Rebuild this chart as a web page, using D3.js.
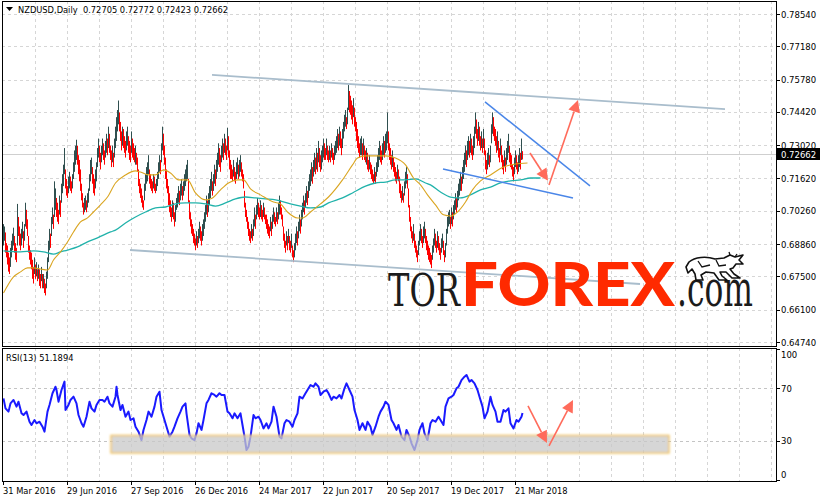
<!DOCTYPE html>
<html><head><meta charset="utf-8">
<script src="https://cdn.jsdelivr.net/npm/d3@7"></script>
<style>body{margin:0;background:#fff}svg{display:block}</style>
</head><body>
<script>
// ---------- data ----------
const titleText = "NZDUSD,Daily  0.72705 0.72772 0.72423 0.72662";
const lastPrice = 0.72662;
const priceTicks = [0.78540,0.77180,0.75780,0.74420,0.73020,0.71620,0.70260,0.68860,0.67500,0.66100,0.64740];
const dateLabels = ["31 Mar 2016","29 Jun 2016","27 Sep 2016","26 Dec 2016","24 Mar 2017","22 Jun 2017","20 Sep 2017","19 Dec 2017","21 Mar 2018"];
const dateBars = [0,64,128,192,256,320,384,448,512];
// daily bar highs / lows, in units of 0.0001
const highs = [
6970,6960,6935,6890,6880,6850,6830,6870,6900,6930,6955,6920,6890,6870,7055,7000,6960,6930,6950,6980,
6940,6970,7060,7030,6990,6920,6880,6860,6850,6820,6790,6830,6800,6810,6780,6800,6780,6760,6790,6760,
6760,6740,6720,6770,6830,6900,6950,6930,7000,7040,7010,7150,7120,7080,7060,7030,7090,7070,7140,7180,
7220,7290,7200,7160,7130,7170,7190,7170,7150,7180,7230,7280,7300,7325,7300,7260,7240,7200,7140,7100,
7060,7080,7090,7070,7100,7120,7180,7240,7250,7210,7180,7160,7200,7230,7290,7330,7300,7270,7300,7330,
7310,7280,7320,7350,7330,7380,7350,7300,7280,7300,7270,7330,7380,7420,7450,7490,7440,7400,7360,7380,
7370,7340,7320,7360,7380,7340,7320,7300,7360,7330,7310,7290,7300,7270,7250,7200,7160,7140,7120,7090,
7070,7140,7180,7210,7230,7260,7200,7180,7160,7150,7180,7170,7140,7160,7190,7230,7260,7240,7310,7380,
7350,7300,7250,7200,7160,7130,7100,7070,7040,7070,7060,7020,7050,7080,7100,7130,7110,7140,7160,7130,
7150,7180,7200,7220,7240,7160,7070,7020,6990,6970,6950,6930,6910,6940,6920,6950,6980,6960,6940,6970,
6990,7020,7050,7090,7070,7100,7130,7160,7190,7150,7180,7220,7200,7240,7270,7310,7290,7260,7300,7330,
7310,7350,7330,7300,7375,7340,7280,7240,7220,7200,7240,7210,7190,7230,7250,7220,7240,7260,7230,7200,
7180,7110,7060,7030,7000,6980,6950,6940,6970,6950,6990,7040,7010,7050,7080,7060,7040,7070,7050,7030,
7060,7040,7010,7010,6990,6970,6960,7000,6980,7010,7040,7020,7000,7040,7020,7060,7090,7070,7040,7010,
6960,6930,6900,6940,6920,6950,6920,6900,6930,6880,6860,6890,6930,6960,6940,6980,7010,6990,7030,7060,
7090,7070,7100,7130,7110,7150,7180,7200,7230,7210,7240,7270,7250,7290,7270,7320,7290,7260,7280,7300,
7330,7310,7290,7330,7300,7280,7300,7280,7310,7290,7270,7300,7320,7340,7370,7350,7380,7360,7330,7370,
7400,7430,7450,7420,7460,7555,7530,7510,7490,7470,7500,7460,7420,7400,7370,7340,7310,7330,7340,7310,
7330,7300,7280,7290,7270,7240,7260,7230,7220,7200,7180,7210,7190,7230,7260,7290,7320,7300,7280,7310,
7340,7320,7350,7360,7440,7360,7310,7290,7260,7280,7250,7230,7210,7190,7220,7200,7170,7140,7110,7130,
7100,7150,7190,7210,7180,7120,7050,7000,6960,6940,6970,6930,6900,6880,6860,6900,6940,6970,6950,6920,
6960,6980,6950,6920,6900,6880,6870,6850,6840,6880,6910,6950,6930,6900,6940,6920,6890,6870,6910,6930,
6900,6860,6890,6950,7000,7020,7030,7000,7040,7020,7050,7070,7100,7080,7110,7140,7160,7190,7170,7210,
7240,7270,7300,7280,7320,7340,7320,7350,7330,7300,7340,7380,7440,7410,7370,7400,7380,7340,7360,7330,
7370,7330,7280,7240,7270,7290,7260,7300,7390,7440,7420,7380,7370,7340,7360,7320,7290,7330,7300,7260,
7240,7280,7250,7290,7320,7350,7300,7270,7260,7220,7210,7250,7280,7260,7230,7260,7290,7270,7330,7277];
const lows = [
6880,6900,6850,6830,6800,6770,6760,6790,6830,6860,6880,6850,6820,6810,6880,6920,6880,6860,6880,6910,
6870,6900,6960,6950,6920,6850,6820,6800,6780,6740,6720,6760,6740,6750,6730,6740,6710,6700,6730,6700,
6700,6680,6670,6700,6740,6810,6860,6870,6920,6970,6950,7000,7030,7000,6980,6970,7010,7000,7060,7100,
7130,7180,7120,7090,7080,7100,7120,7110,7100,7120,7160,7190,7220,7240,7220,7180,7150,7110,7070,7040,
7010,7020,7030,7020,7040,7060,7110,7150,7180,7140,7100,7090,7120,7150,7210,7250,7230,7200,7230,7260,
7240,7220,7250,7270,7260,7290,7270,7240,7210,7230,7210,7250,7290,7320,7360,7390,7360,7320,7280,7300,
7290,7270,7250,7280,7300,7270,7240,7230,7270,7250,7240,7230,7220,7220,7190,7130,7100,7080,7060,7040,
7030,7070,7110,7140,7150,7180,7140,7120,7110,7100,7120,7110,7100,7110,7130,7160,7190,7180,7230,7280,
7260,7220,7160,7120,7100,7050,7020,7000,6980,7000,6990,6960,6980,7030,7040,7060,7050,7070,7090,7070,
7090,7110,7130,7150,7160,7060,6990,6960,6930,6920,6890,6880,6860,6880,6870,6890,6910,6900,6880,6900,
6920,6950,6980,7010,7000,7020,7050,7080,7110,7090,7110,7140,7130,7160,7190,7220,7210,7190,7230,7250,
7240,7270,7260,7240,7280,7250,7200,7160,7160,7150,7170,7150,7140,7160,7180,7160,7170,7190,7170,7150,
7120,7040,7000,6980,6950,6920,6900,6890,6910,6900,6920,6960,6950,6990,7010,7000,6990,7000,6990,6980,
7000,6990,6970,6950,6930,6920,6910,6940,6920,6950,6980,6970,6960,6980,6970,6990,7010,7010,6990,6960,
6900,6870,6850,6880,6860,6890,6860,6850,6870,6830,6810,6830,6860,6890,6880,6910,6940,6930,6960,6990,
7020,7010,7040,7060,7050,7080,7110,7130,7150,7140,7170,7190,7180,7200,7190,7230,7210,7190,7200,7230,
7250,7240,7240,7260,7240,7230,7240,7230,7250,7240,7220,7240,7260,7270,7290,7280,7300,7290,7260,7290,
7330,7360,7380,7370,7390,7450,7440,7430,7410,7390,7420,7380,7360,7320,7290,7270,7250,7260,7260,7240,
7260,7240,7230,7220,7200,7190,7200,7180,7160,7150,7140,7150,7140,7170,7190,7210,7240,7230,7220,7240,
7260,7250,7270,7280,7310,7280,7240,7220,7200,7210,7190,7170,7150,7140,7160,7150,7100,7080,7060,7070,
7060,7090,7120,7140,7120,7040,6980,6940,6910,6890,6900,6870,6850,6830,6810,6840,6880,6900,6890,6870,
6890,6910,6890,6860,6840,6820,6810,6800,6785,6820,6850,6880,6870,6850,6870,6860,6840,6820,6850,6870,
6840,6810,6830,6880,6930,6960,6970,6950,6970,6960,6990,7010,7030,7020,7040,7070,7090,7110,7110,7140,
7160,7190,7220,7210,7240,7260,7250,7270,7260,7240,7260,7290,7350,7330,7300,7320,7300,7280,7290,7270,
7290,7260,7200,7180,7200,7220,7210,7230,7310,7350,7340,7320,7300,7270,7280,7250,7230,7260,7230,7200,
7180,7210,7190,7220,7240,7270,7230,7210,7200,7170,7150,7180,7210,7200,7180,7190,7210,7200,7240,7242];
// moving averages: [bar, value in 0.0001]
const maFast = [[0,6680],[10,6748],[17,6769],[24,6786],[30,6786],[37,6781],[44,6777],[50,6819],[57,6853],[64,6895],[70,6937],[77,6979],[84,6996],[90,7021],[97,7051],[104,7084],[112,7143],[122,7177],[132,7194],[137,7189],[145,7177],[152,7177],[160,7198],[167,7185],[175,7156],[184,7156],[192,7101],[202,7072],[209,7080],[217,7114],[225,7143],[234,7156],[240,7156],[247,7118],[257,7093],[270,7063],[277,7055],[284,7021],[294,6996],[299,6996],[307,7021],[317,7055],[325,7084],[339,7156],[349,7219],[354,7248],[362,7257],[372,7257],[382,7257],[392,7248],[402,7219],[410,7164],[417,7135],[424,7093],[432,7051],[440,7009],[447,7004],[454,7021],[462,7063],[469,7114],[477,7152],[487,7177],[500,7210],[512,7223],[524,7227]];
const maSlow = [[0,6857],[17,6853],[30,6857],[40,6853],[50,6844],[57,6853],[64,6861],[74,6874],[84,6895],[94,6912],[107,6937],[112,6945],[122,6975],[132,7000],[142,7021],[152,7038],[162,7042],[172,7055],[182,7059],[192,7059],[202,7055],[212,7046],[222,7059],[232,7076],[242,7084],[252,7080],[262,7076],[272,7072],[287,7055],[297,7046],[307,7038],[317,7042],[325,7059],[339,7080],[349,7101],[362,7130],[372,7143],[382,7147],[392,7156],[402,7156],[412,7160],[422,7143],[427,7135],[437,7105],[447,7084],[457,7080],[467,7093],[477,7114],[487,7126],[497,7143],[507,7152],[517,7156],[527,7164],[537,7164]];
// RSI(13): [bar, value]
const rsiLabel = "RSI(13) 51.1894";
const rsiTicks = [100,70,30,0];
const rsiLevels = [70,30];
const rsiPoints = [[0,62.3],[2,54.7],[5,52.2],[7,58.5],[10,61.1],[13,56.0],[15,59.8],[18,50.9],[20,49.6],[23,52.2],[26,44.5],[28,42.0],[31,45.8],[33,43.3],[36,44.5],[39,40.7],[41,36.9],[44,52.2],[46,57.3],[49,66.2],[52,71.2],[53,68.7],[55,59.8],[58,68.7],[61,75.1],[62,53.4],[65,57.3],[67,61.1],[70,63.6],[73,58.5],[75,49.6],[78,43.3],[80,40.7],[83,48.3],[86,59.8],[88,54.7],[91,52.2],[93,57.3],[96,61.1],[99,61.1],[101,59.8],[104,63.6],[106,58.5],[109,56.0],[112,63.6],[113,71.2],[114,64.9],[117,53.4],[119,57.3],[122,48.3],[125,52.2],[127,45.8],[130,47.1],[132,40.7],[135,36.9],[138,30.5],[140,38.2],[143,45.8],[145,52.2],[148,48.3],[151,56.0],[153,63.6],[156,67.4],[158,53.4],[161,45.8],[164,38.2],[166,33.1],[169,36.9],[171,40.7],[174,47.1],[177,52.2],[179,56.0],[182,58.5],[183,50.9],[186,34.4],[188,31.8],[191,30.5],[193,35.6],[195,43.3],[198,38.2],[200,45.8],[203,58.5],[205,61.1],[208,66.2],[211,64.9],[213,63.6],[216,66.2],[218,64.9],[221,64.9],[224,52.2],[226,50.9],[229,47.1],[231,50.9],[234,47.1],[237,50.9],[239,42.0],[241,33.1],[243,22.9],[245,25.4],[247,33.1],[250,49.6],[252,47.1],[255,48.3],[257,45.8],[260,39.4],[263,43.3],[265,39.4],[268,44.5],[270,56.0],[273,48.3],[276,33.1],[278,31.8],[281,43.3],[283,45.8],[286,44.5],[289,40.7],[291,45.8],[294,50.9],[296,63.6],[299,62.3],[302,66.2],[304,68.7],[307,72.5],[310,71.2],[312,73.8],[315,71.2],[317,64.9],[320,67.4],[323,68.7],[325,66.2],[328,61.1],[330,63.6],[333,62.3],[336,64.9],[338,62.3],[341,70.0],[343,73.8],[346,68.7],[349,63.6],[351,53.4],[354,45.8],[356,38.2],[359,43.3],[362,38.2],[364,44.5],[367,40.7],[369,34.4],[372,40.7],[375,48.3],[377,52.2],[380,56.0],[382,59.8],[385,57.3],[388,45.8],[390,43.3],[393,38.2],[395,42.0],[398,33.1],[401,30.5],[403,38.2],[406,33.1],[408,28.0],[411,22.9],[414,30.5],[416,38.2],[419,43.3],[421,35.6],[424,30.5],[427,43.3],[429,45.8],[432,44.5],[435,48.3],[437,45.8],[440,42.0],[442,56.0],[445,62.3],[448,63.6],[450,64.9],[453,70.0],[455,71.2],[458,76.3],[461,78.9],[463,80.2],[466,75.1],[468,76.3],[471,73.8],[474,68.7],[476,63.6],[479,56.0],[481,47.1],[484,52.2],[487,63.6],[489,57.3],[492,52.2],[494,44.5],[497,44.5],[500,53.4],[502,52.2],[505,54.7],[507,43.3],[510,39.4],[513,45.8],[515,44.5],[518,48.3],[519,51.2]];
// drawn objects: [bar, price] endpoints
const channelUpper = [[209,0.7598],[722,0.7454]];
const channelLower = [[127,0.6861],[637,0.6718]];
const wedgeUpper = [[482,0.7484],[587,0.7131]];
const wedgeLower = [[440,0.7202],[570,0.7080]];
const priceArrows = [[[527,0.7269],[545,0.7152]],[[546,0.7135],[575,0.7492]]];
const rsiArrows = [[[525,56.5],[544,28.2]],[[546,26],[570,61]]];
const rsiZone = {bar0:108, bar1:666, lo:20.6, hi:34};

// ---------- layout ----------
const W = 820, H = 502;
const L = 2, R = 776, MT = 1, MB = 346, RT = 348, RB = 481;
const FONT = "DejaVu Sans, Verdana, sans-serif";

const svg = d3.select("body").append("svg").attr("width", W).attr("height", H)
  .style("font-family", FONT);

const x = d3.scaleLinear().domain([0, 773]).range([3, 776]);
const y = d3.scaleLinear().domain([0.64740, 0.78540]).range([342, 14]);
const yr = d3.scaleLinear().domain([0, 100]).range([480, 349]);
const P = v => v / 10000;

const defs = svg.append("defs");
defs.append("clipPath").attr("id","cMain").append("rect").attr("x",L+1).attr("y",MT+1).attr("width",R-L-1).attr("height",MB-MT-1);
defs.append("clipPath").attr("id","cRsi").append("rect").attr("x",L+1).attr("y",RT+1).attr("width",R-L-1).attr("height",RB-RT-1);
const blur = defs.append("filter").attr("id","soft").attr("x","-5%").attr("y","-50%").attr("width","110%").attr("height","200%");
blur.append("feGaussianBlur").attr("stdDeviation",0.8);

const gridColor = "#d6d6d6";
const vgrid = d3.range(32, 774, 32);

// ----- main panel -----
const gm = svg.append("g").attr("clip-path","url(#cMain)");
gm.selectAll("line.hg").data(priceTicks).join("line")
  .attr("x1",L).attr("x2",R).attr("y1",d=>Math.round(y(d))+0.5).attr("y2",d=>Math.round(y(d))+0.5)
  .attr("stroke",gridColor).attr("stroke-dasharray","3,3");
gm.selectAll("line.vg").data(vgrid).join("line")
  .attr("x1",d=>x(d)+0.5).attr("x2",d=>x(d)+0.5).attr("y1",MT).attr("y2",MB)
  .attr("stroke",gridColor).attr("stroke-dasharray","3,3");
// bid line
gm.append("line").attr("x1",L).attr("x2",R)
  .attr("y1",Math.round(y(lastPrice))+0.5).attr("y2",Math.round(y(lastPrice))+0.5)
  .attr("stroke","#cfcfcf");

// candles
const n = Math.min(highs.length, lows.length);
const bars = d3.range(n).map(i => {
  const mid = (highs[i]+lows[i])/2;
  const prev = i>0 ? (highs[i-1]+lows[i-1])/2 : mid;
  return {i, h:P(highs[i]), l:P(lows[i]), up: mid >= prev};
});
gm.selectAll("rect.bar").data(bars).join("rect")
  .attr("x",d=>Math.round(x(d.i))).attr("width",1)
  .attr("y",d=>y(d.h)).attr("height",d=>Math.max(1,y(d.l)-y(d.h)))
  .attr("fill",d=>d.up ? "#2f4f4f" : "#ff0000");

const maLine = d3.line().x(d=>x(d[0])+0.5).y(d=>y(P(d[1]))).curve(d3.curveMonotoneX);
gm.append("path").attr("d",maLine(maSlow)).attr("fill","none").attr("stroke","#20b2aa").attr("stroke-width",1.3);
gm.append("path").attr("d",maLine(maFast)).attr("fill","none").attr("stroke","#daa520").attr("stroke-width",1.1);

const seg = (g, pts, sc, color, w) => g.append("line")
  .attr("x1",x(pts[0][0])).attr("y1",sc(pts[0][1])).attr("x2",x(pts[1][0])).attr("y2",sc(pts[1][1]))
  .attr("stroke",color).attr("stroke-width",w);
seg(gm, channelUpper, y, "#a9bdcc", 1.8);
seg(gm, channelLower, y, "#a9bdcc", 1.8);
seg(gm, wedgeUpper, y, "#4a86e8", 1.5);
seg(gm, wedgeLower, y, "#4a86e8", 1.5);

function arrow(g, pts, sc, color){
  const x1=x(pts[0][0]), y1=sc(pts[0][1]), x2=x(pts[1][0]), y2=sc(pts[1][1]);
  const dx=x2-x1, dy=y2-y1, len=Math.hypot(dx,dy), ux=dx/len, uy=dy/len;
  const hl=12, hw=6;
  const bx=x2-ux*hl, by=y2-uy*hl;
  g.append("line").attr("x1",x1).attr("y1",y1).attr("x2",bx).attr("y2",by)
    .attr("stroke",color).attr("stroke-width",1.6);
  g.append("path").attr("d",`M${x2},${y2}L${bx-uy*hw},${by+ux*hw}L${bx+uy*hw},${by-ux*hw}Z`).attr("fill",color);
}
priceArrows.forEach(a=>arrow(gm,a,y,"#ff6b5b"));

// watermark
const wm = gm.append("g");
wm.append("text").attr("transform","translate(388,306) scale(1,1.4)")
  .attr("font-family","DejaVu Serif, serif")
  .attr("font-size",32).attr("fill","#1b1b1b")
  .attr("textLength",72).attr("lengthAdjust","spacingAndGlyphs").text("TOR");
wm.append("text").attr("x",461).attr("y",306).attr("font-family","Lato, Roboto, sans-serif").attr("font-weight",900)
  .attr("font-size",60).attr("fill","#ff2a00")
  .attr("textLength",214).attr("lengthAdjust","spacingAndGlyphs").text("FOREX");
wm.append("text").attr("transform","translate(677,306) scale(1,1.6)")
  .attr("font-family","DejaVu Serif, serif")
  .attr("font-size",31).attr("fill","#1b1b1b")
  .attr("textLength",76).attr("lengthAdjust","spacingAndGlyphs").text(".com");
// bull logo
wm.append("path").attr("transform","translate(686,253)")
  .attr("d","M3,9 C9,4 20,3 29,6 L38,5 L44,2 L49,4 L57,2 L53,7 L57,11 L50,11 L47,15 L44,16 L48,21 L54,25 L46,25 L40,19 L34,19 L36,23 L41,27 L33,27 L28,20 L20,19 L15,22 L17,27 L10,27 L9,21 L6,16 L2,20 L0,14 Z")
  .attr("fill","#fff").attr("stroke","#111").attr("stroke-width",1.6).attr("stroke-linejoin","round");
wm.append("path").attr("transform","translate(686,253)")
  .attr("d","M12,8 L16,14 L24,12 M30,7 L33,13 L40,12 M44,2 L43,-1 M49,4 L51,1")
  .attr("fill","none").attr("stroke","#111").attr("stroke-width",1.3);

// title
const tg = svg.append("g");
tg.append("path").attr("d","M6,7 L13,7 L9.5,11 Z").attr("fill","#000");
tg.append("text").attr("x",18).attr("y",13).attr("font-size",8.3).attr("fill","#000")
  .attr("xml:space","preserve").text(titleText);

// frames
svg.append("rect").attr("x",L+0.5).attr("y",MT+0.5).attr("width",R-L).attr("height",MB-MT).attr("fill","none").attr("stroke","#000");

// price axis
const pa = svg.append("g");
pa.selectAll("line").data(priceTicks).join("line")
  .attr("x1",R).attr("x2",R+4).attr("y1",d=>Math.round(y(d))+0.5).attr("y2",d=>Math.round(y(d))+0.5).attr("stroke","#000");
pa.selectAll("text").data(priceTicks).join("text")
  .attr("x",781).attr("y",d=>y(d)+3.5).attr("font-size",8.5).attr("fill","#000").text(d=>d.toFixed(5));
const yl = Math.round(y(lastPrice));
pa.append("rect").attr("x",777).attr("y",yl-6).attr("width",43).attr("height",12).attr("fill","#000");
pa.append("text").attr("x",781).attr("y",yl+3.5).attr("font-size",8.5).attr("fill","#fff").text(lastPrice.toFixed(5));

// ----- RSI panel -----
const gr = svg.append("g").attr("clip-path","url(#cRsi)");
gr.selectAll("line.hg").data(rsiLevels).join("line")
  .attr("x1",L).attr("x2",R).attr("y1",d=>Math.round(yr(d))+0.5).attr("y2",d=>Math.round(yr(d))+0.5)
  .attr("stroke","#c4c4c4").attr("stroke-dasharray","3,3");
gr.selectAll("line.vg").data(vgrid).join("line")
  .attr("x1",d=>x(d)+0.5).attr("x2",d=>x(d)+0.5).attr("y1",RT).attr("y2",RB)
  .attr("stroke",gridColor).attr("stroke-dasharray","3,3");
gr.append("path").attr("d", d3.line().x(d=>x(d[0])+0.5).y(d=>yr(d[1]))(rsiPoints))
  .attr("fill","none").attr("stroke","#1a1aff").attr("stroke-width",2).attr("stroke-linejoin","round");
gr.append("rect").attr("x",x(rsiZone.bar0)).attr("y",yr(rsiZone.hi))
  .attr("width",x(rsiZone.bar1)-x(rsiZone.bar0)).attr("height",yr(rsiZone.lo)-yr(rsiZone.hi))
  .attr("fill","#c8c8c8").attr("fill-opacity",0.75).attr("stroke","#f2c35a").attr("stroke-width",1.4)
  .attr("filter","url(#soft)");
rsiArrows.forEach(a=>arrow(gr,a,yr,"#ff6b5b"));
gr.append("text").attr("x",6).attr("y",361).attr("font-size",8.3).attr("fill","#000").text(rsiLabel);

svg.append("rect").attr("x",L+0.5).attr("y",RT+0.5).attr("width",R-L).attr("height",RB-RT).attr("fill","none").attr("stroke","#000");

const ra = svg.append("g");
ra.selectAll("line").data(rsiTicks).join("line")
  .attr("x1",R).attr("x2",R+4).attr("y1",d=>Math.round(yr(d))+0.5).attr("y2",d=>Math.round(yr(d))+0.5).attr("stroke","#000");
ra.selectAll("text").data(rsiTicks).join("text")
  .attr("x",781).attr("y",d=>Math.min(Math.max(yr(d)+3.5,358),478)).attr("font-size",8.5).attr("fill","#000").text(d=>d);

// date axis
const da = svg.append("g");
da.selectAll("line").data(dateBars).join("line")
  .attr("x1",d=>x(d)+0.5).attr("x2",d=>x(d)+0.5).attr("y1",RB).attr("y2",RB+4).attr("stroke","#000");
da.selectAll("text").data(dateLabels).join("text")
  .attr("x",(d,i)=>x(dateBars[i])).attr("y",494).attr("font-size",8.3).attr("fill","#000").text(d=>d);
</script>
</body></html>
